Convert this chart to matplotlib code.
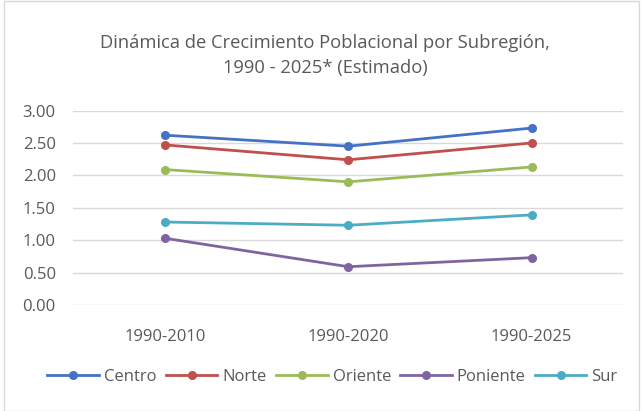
import matplotlib
matplotlib.use("Agg")
import matplotlib.pyplot as plt
from matplotlib.patches import Rectangle

# datos del grafico
periodos = ["1990-2010", "1990-2020", "1990-2025"]
centro = [2.62, 2.45, 2.73]
norte = [2.47, 2.24, 2.50]
oriente = [2.09, 1.90, 2.13]
poniente = [1.03, 0.59, 0.73]
sur = [1.28, 1.23, 1.39]
yticks = [0.0, 0.5, 1.0, 1.5, 2.0, 2.5, 3.0]

series = [
	("Centro", centro, "#4472C4"),
	("Norte", norte, "#C0504D"),
	("Oriente", oriente, "#9BBB59"),
	("Poniente", poniente, "#8064A2"),
	("Sur", sur, "#4BACC6"),
]

plt.rcParams['font.family'] = ['Open Sans', 'DejaVu Sans']
txt = "#595959"

fig = plt.figure(figsize=(6.42, 4.11), dpi=100)
ax = fig.add_axes([0.114, 0.258, 0.857, 0.473])

x = range(len(periodos))
for name, vals, col in series:
	ax.plot(x, vals, color=col, lw=2.0, marker="o", ms=5.5, label=name, clip_on=False, zorder=3)

ax.set_xlim(-0.5, len(periodos) - 0.5)
ax.set_ylim(0, 3)
ax.set_yticks(yticks)
ax.set_yticklabels(["%.2f" % v for v in yticks], color=txt, fontsize=12)
ax.set_xticks(list(x))
ax.set_xticklabels(periodos, color=txt, fontsize=12)
ax.tick_params(axis="y", length=0, pad=12.5)
ax.tick_params(axis="x", length=0, pad=17)
ax.grid(axis="y", color="#D9D9D9", lw=1)
ax.set_axisbelow(True)
for s in ax.spines.values():
	s.set_visible(False)

fig.text(0.506, 0.865, "Dinámica de Crecimiento Poblacional por Subregión,\n1990 - 2025* (Estimado)",
	ha="center", va="center", fontsize=13.2, color=txt, linespacing=1.55)

fig.legend(loc="center", bbox_to_anchor=(0.518, 0.083), ncol=5, frameon=False,
	fontsize=12, labelcolor=txt, handlelength=3.1, columnspacing=0.55, handletextpad=0.3)

fig.patches.append(Rectangle((0.006, 0.0), 0.99, 0.998, transform=fig.transFigure,
	fill=False, edgecolor="#D9D9D9", lw=1))

fig.savefig("out.png", dpi=100)
